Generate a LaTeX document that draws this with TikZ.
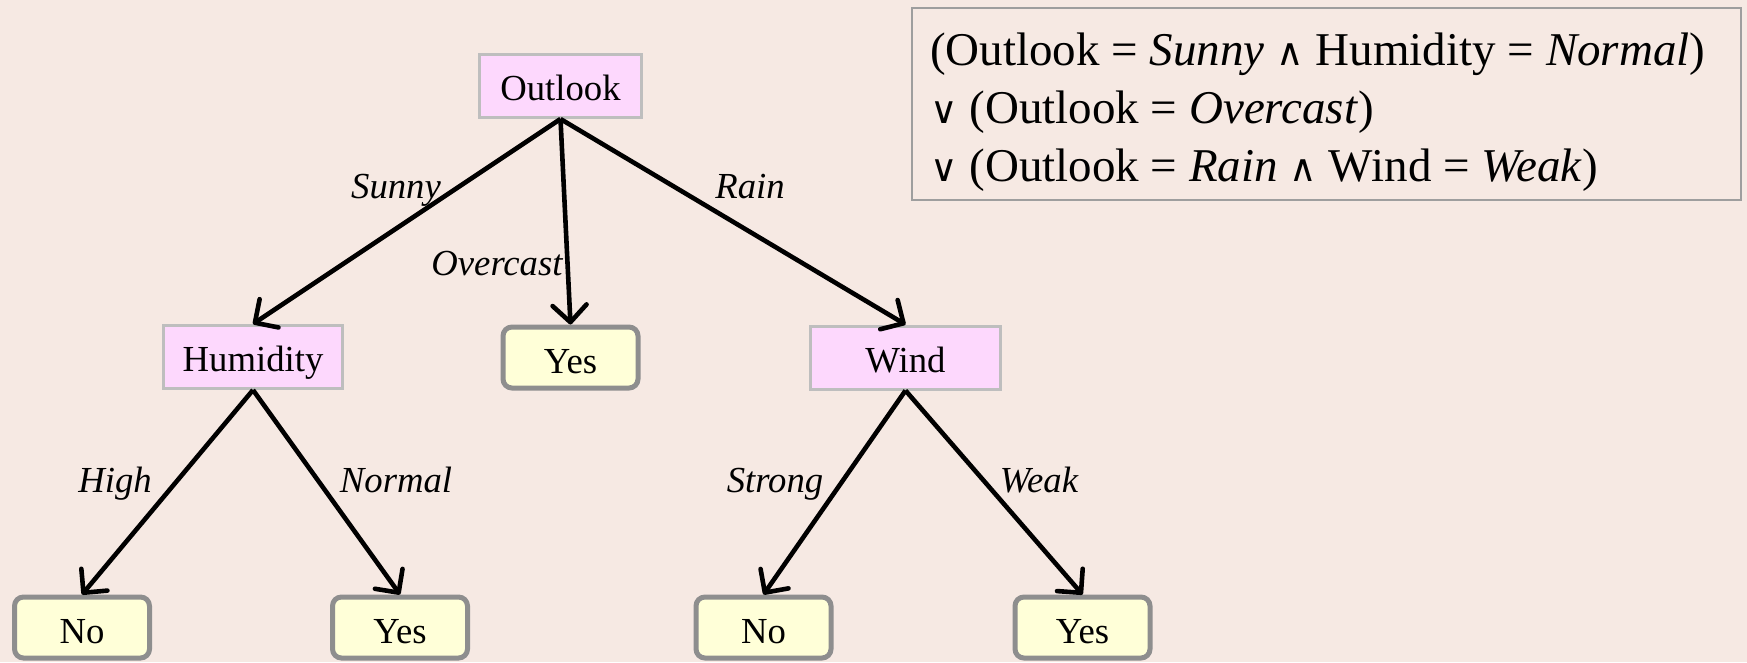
\documentclass[tikz,border=0pt]{standalone}
\usepackage{fontspec}
\setmainfont{Liberation Serif}
\newfontfamily\opfont{DejaVu Sans}[Scale=0.8]
\usetikzlibrary{arrows.meta}

\definecolor{paper}{HTML}{F6E9E3}
\definecolor{attrfill}{HTML}{FDD8FD}
\definecolor{leaffill}{HTML}{FFFFD8}
\definecolor{attrline}{HTML}{BEBEBE}
\definecolor{leafline}{HTML}{8E8E8E}
\definecolor{ruleline}{HTML}{9E9E9E}

\newcommand{\nodefont}{\fontsize{36.7}{44}\selectfont}
\newcommand{\rulefont}{\fontsize{47}{58}\selectfont}

\begin{document}
\begin{tikzpicture}[x=1pt,y=-1pt]

      \fill[paper] (0,0) rectangle (1747,662);
      \useasboundingbox (0,0) rectangle (1747,662);

      \begin{scope}[every node/.style={draw=attrline,line width=3pt,fill=attrfill,minimum height=63pt,inner sep=0pt,text height=29pt,text depth=0pt,font=\nodefont}]
        \node[minimum width=162pt] (outlook) at (560.5,86) {Outlook};
        \node[minimum width=179pt] (humidity) at (253,357) {Humidity};
        \node[minimum width=190pt] (wind) at (905.5,357.5) {Wind};
      \end{scope}

      \begin{scope}[every node/.style={draw=leafline,line width=5pt,fill=leaffill,rounded corners=9pt,minimum width=135pt,minimum height=61pt,inner sep=0pt,text height=31pt,text depth=0pt,font=\nodefont}]
        \node (yes1) at (570.5,357.5) {Yes};
        \node (no1) at (82,627.5) {No};
        \node (yes2) at (400,627.5) {Yes};
        \node (no2) at (763.5,627.5) {No};
        \node (yes3) at (1082.5,627.5) {Yes};
      \end{scope}

      \begin{scope}[every edge/.style={draw,line width=4.6pt,-{Straight Barb[length=17pt,width=34pt,round]}}]
        \path (outlook.south) edge (humidity.north);
        \path (outlook.south) edge (yes1.north);
        \path (outlook.south) edge (wind.north);
        \path (humidity.south) edge (no1.north);
        \path (humidity.south) edge (yes2.north);
        \path (wind.south) edge (no2.north);
        \path (wind.south) edge (yes3.north);
      \end{scope}

      \begin{scope}[every node/.style={font=\nodefont\itshape,inner sep=0pt,anchor=base}]
        \node (sunny) at (396,198) {Sunny};
        \node (overcast) at (497,275) {Overcast};
        \node (rain) at (750,198) {Rain};
        \node (high) at (115,492) {High};
        \node (normal) at (396,492) {Normal};
        \node (strong) at (775,492) {Strong};
        \node (weak) at (1039,492) {Weak};
      \end{scope}

      \node[draw=ruleline,line width=2pt,anchor=north west,minimum width=829pt,minimum height=192pt] (rule) at (911,7) {};
      \begin{scope}[every node/.style={font=\rulefont,inner sep=0pt,anchor=base west}]
        \node (line1) at (930,65) {(Outlook = \textit{Sunny} {\opfont ∧} Humidity = \textit{Normal})};
        \node (line2) at (930,123) {{\opfont ∨} (Outlook = \textit{Overcast})};
        \node (line3) at (930,181) {{\opfont ∨} (Outlook = \textit{Rain} {\opfont ∧} Wind = \textit{Weak})};
      \end{scope}

    \end{tikzpicture}
\end{document}
